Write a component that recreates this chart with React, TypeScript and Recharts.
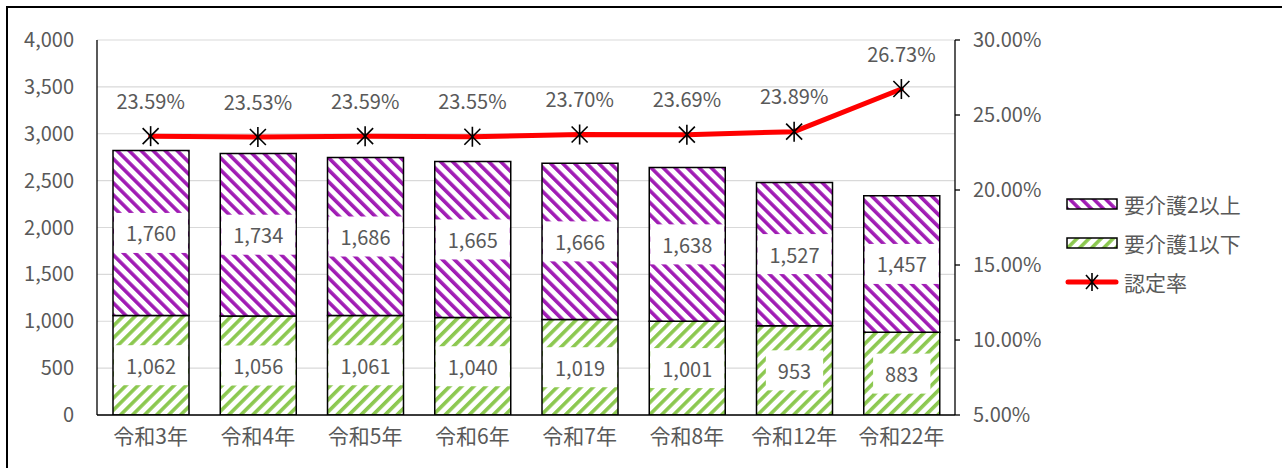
import React from 'react';
import { ComposedChart, Bar, Line, XAxis, YAxis, CartesianGrid, Legend, LabelList } from 'recharts';

const categories = ['令和3年', '令和4年', '令和5年', '令和6年', '令和7年', '令和8年', '令和12年', '令和22年'];
const care2Plus = [1760, 1734, 1686, 1665, 1666, 1638, 1527, 1457];
const care1Less = [1062, 1056, 1061, 1040, 1019, 1001, 953, 883];
const rate = [23.59, 23.53, 23.59, 23.55, 23.7, 23.69, 23.89, 26.73];
const leftTicks = [0, 500, 1000, 1500, 2000, 2500, 3000, 3500, 4000];
const rightTicks = [5, 10, 15, 20, 25, 30];
const seriesNames = ['要介護2以上', '要介護1以下', '認定率'];

const data = categories.map((c, i) => ({
  name: c,
  care2Plus: care2Plus[i],
  care1Less: care1Less[i],
  rate: rate[i],
}));

const FONT = '"Noto Sans CJK JP", "Noto Sans", sans-serif';
const TEXT = '#595959';
const PURPLE = '#A01CB4';
const GREEN = '#8CC850';
const FS = 20;
const CJK_FS = 21;
const SW = 3.6;

let canvasCtx: CanvasRenderingContext2D | null = null;
function measure(t: string, size: number) {
  if (!canvasCtx) {
    const c = document.createElement('canvas');
    canvasCtx = c.getContext('2d');
  }
  if (!canvasCtx) return t.length * size * 0.55;
  canvasCtx.font = `${size}px ${FONT}`;
  return canvasCtx.measureText(t).width;
}

const fmt = (v: number) => v.toLocaleString('en-US');

const BoxLabel = (props: any) => {
  const { x, y, width, height, value } = props;
  const cx = Number(x) + Number(width) / 2;
  const cy = Number(y) + Number(height) / 2;
  const t = fmt(Number(value));
  const w = measure(t, FS) + 24;
  const h = 40;
  return (
    <g>
      <rect x={cx - w / 2} y={cy - h / 2} width={w} height={h} fill="#fff" />
      <text x={cx} y={cy} textAnchor="middle" dominantBaseline="central" fill={TEXT} fontSize={FS} fontFamily={FONT}>
        {t}
      </text>
    </g>
  );
};

const RateLabel = (props: any) => {
  const { x, y, value } = props;
  return (
    <text x={x} y={Number(y) - 36} textAnchor="middle" dominantBaseline="central" fill={TEXT} fontSize={FS} fontFamily={FONT}>
      {Number(value).toFixed(2)}%
    </text>
  );
};

const Asterisk = (props: any) => {
  const { cx, cy } = props;
  if (cx == null || cy == null) return null;
  return (
    <g stroke="#000" strokeWidth={1.6} key={`a-${cx}`}>
      <line x1={cx - 8} y1={cy - 8} x2={cx + 8} y2={cy + 8} />
      <line x1={cx - 8} y1={cy + 8} x2={cx + 8} y2={cy - 8} />
      <line x1={cx} y1={cy - 10} x2={cx} y2={cy + 10} />
    </g>
  );
};

const Patterns = () => (
  <defs>
    <pattern id="purpleStripe" patternUnits="userSpaceOnUse" width={8.5} height={8.5} patternTransform="rotate(-45)">
      <rect width={8.5} height={8.5} fill="#fff" />
      <rect x={0} y={0} width={SW} height={8.5} fill={PURPLE} />
    </pattern>
    <pattern id="greenStripe" patternUnits="userSpaceOnUse" width={8.5} height={8.5} patternTransform="rotate(45)">
      <rect width={8.5} height={8.5} fill="#fff" />
      <rect x={0} y={0} width={SW} height={8.5} fill={GREEN} />
    </pattern>
  </defs>
);

const LegendBox = () => {
  const row: React.CSSProperties = { display: 'flex', alignItems: 'center', height: 39 };
  const txt: React.CSSProperties = { fontFamily: FONT, fontSize: CJK_FS, color: TEXT, marginLeft: 5, whiteSpace: 'nowrap' };
  return (
    <div>
      <div style={row}>
        <svg width={54} height={14}>
          <defs>
            <pattern id="lgP" patternUnits="userSpaceOnUse" width={8.5} height={8.5} patternTransform="rotate(-45)">
              <rect width={8.5} height={8.5} fill="#fff" />
              <rect width={SW} height={8.5} fill={PURPLE} />
            </pattern>
          </defs>
          <rect x={2} y={2} width={50} height={10} fill="url(#lgP)" stroke="#000" strokeWidth={1.5} />
        </svg>
        <span style={txt}>{seriesNames[0]}</span>
      </div>
      <div style={row}>
        <svg width={54} height={14}>
          <defs>
            <pattern id="lgG" patternUnits="userSpaceOnUse" width={8.5} height={8.5} patternTransform="rotate(45)">
              <rect width={8.5} height={8.5} fill="#fff" />
              <rect width={SW} height={8.5} fill={GREEN} />
            </pattern>
          </defs>
          <rect x={2} y={2} width={50} height={10} fill="url(#lgG)" stroke="#000" strokeWidth={1.5} />
        </svg>
        <span style={txt}>{seriesNames[1]}</span>
      </div>
      <div style={row}>
        <svg width={54} height={22}>
          <line x1={3} y1={11} x2={51} y2={11} stroke="#FF0000" strokeWidth={5} strokeLinecap="round" />
          <g stroke="#000" strokeWidth={1.6}>
            <line x1={21} y1={4} x2={33} y2={18} />
            <line x1={21} y1={18} x2={33} y2={4} />
            <line x1={27} y1={2} x2={27} y2={20} />
          </g>
        </svg>
        <span style={txt}>{seriesNames[2]}</span>
      </div>
    </div>
  );
};

export default function App() {
  return (
    <div
      style={{
        position: 'absolute',
        left: 6,
        top: 6,
        width: 1274,
        height: 460,
        borderTop: '2px solid #000',
        borderLeft: '2px solid #000',
        background: '#fff',
        overflow: 'hidden',
      }}
    >
      <ComposedChart
        width={1274}
        height={460}
        data={data}
        margin={{ top: 32, right: 217, bottom: 18, left: 0 }}
      >
        <Patterns />
        <CartesianGrid yAxisId="left" vertical={false} stroke="#D9D9D9" strokeWidth={1.2} />
        <XAxis
          dataKey="name"
          tickLine={false}
          axisLine={{ stroke: '#000', strokeWidth: 1.3 }}
          height={35}
          tickSize={6}
          tickMargin={8}
          interval={0}
          tick={{ fill: TEXT, fontSize: CJK_FS, fontFamily: FONT }}
        />
        <YAxis
          yAxisId="left"
          orientation="left"
          width={89}
          domain={[0, 4000]}
          ticks={leftTicks}
          tickFormatter={fmt}
          tickLine={false}
          tickSize={6}
          tickMargin={17}
          axisLine={{ stroke: '#000', strokeWidth: 1.3 }}
          tick={{ fill: TEXT, fontSize: FS, fontFamily: FONT }}
          allowDataOverflow
        />
        <YAxis
          yAxisId="right"
          orientation="right"
          width={110}
          domain={[5, 30]}
          ticks={rightTicks}
          tickFormatter={(v: number) => `${v.toFixed(2)}%`}
          tickLine={{ stroke: '#000', strokeWidth: 1.3 }}
          tickSize={5}
          tickMargin={13}
          axisLine={{ stroke: '#000', strokeWidth: 1.3 }}
          tick={{ fill: TEXT, fontSize: FS, fontFamily: FONT }}
          allowDataOverflow
        />
        <Bar
          yAxisId="left"
          dataKey="care1Less"
          name={seriesNames[1]}
          stackId="s"
          barSize={76}
          fill="url(#greenStripe)"
          stroke="#000"
          strokeWidth={1.5}
          isAnimationActive={false}
        >
          <LabelList dataKey="care1Less" content={BoxLabel} />
        </Bar>
        <Bar
          yAxisId="left"
          dataKey="care2Plus"
          name={seriesNames[0]}
          stackId="s"
          barSize={76}
          fill="url(#purpleStripe)"
          stroke="#000"
          strokeWidth={1.5}
          isAnimationActive={false}
        >
          <LabelList dataKey="care2Plus" content={BoxLabel} />
        </Bar>
        <Line
          yAxisId="right"
          dataKey="rate"
          name={seriesNames[2]}
          stroke="#FF0000"
          strokeWidth={5}
          strokeLinecap="round"
          strokeLinejoin="round"
          dot={<Asterisk />}
          activeDot={false}
          isAnimationActive={false}
        >
          <LabelList dataKey="rate" content={RateLabel} />
        </Line>
        <Legend
          layout="vertical"
          align="center"
          verticalAlign="middle"
          content={() => <LegendBox />}
          wrapperStyle={{ position: 'absolute', left: 1057, top: 176, width: 215, bottom: 'auto', right: 'auto' }}
        />
      </ComposedChart>
    </div>
  );
}
